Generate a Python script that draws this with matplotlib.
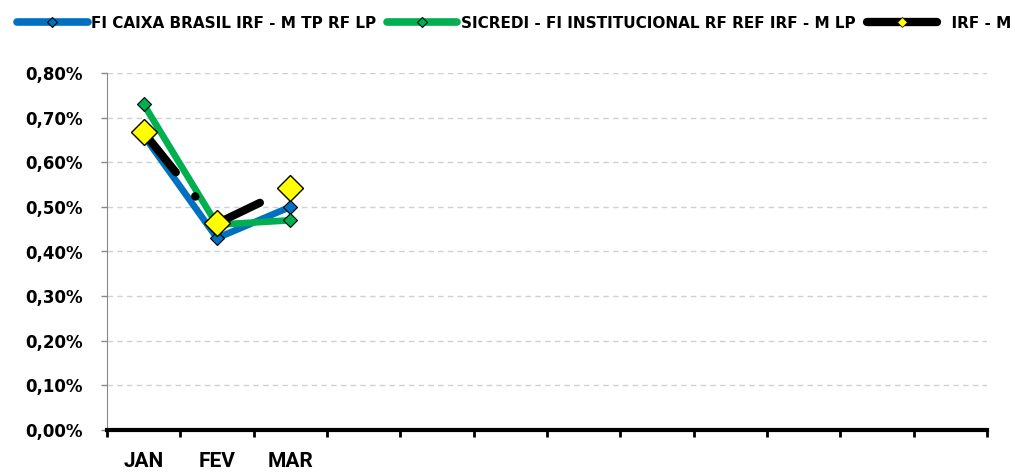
import matplotlib
matplotlib.use("Agg")
import matplotlib.pyplot as plt
from matplotlib.lines import Line2D
from matplotlib.ticker import FuncFormatter, FixedLocator

plt.rcParams['font.family'] = ['DejaVu Sans']
plt.rcParams['font.weight'] = 'bold'
plt.rcParams['lines.scale_dashes'] = False

# data (monthly return, %)
months = ['JAN', 'FEV', 'MAR', '', '', '', '', '', '', '', '', '']
caixa = [0.66, 0.43, 0.50]
sicredi = [0.73, 0.46, 0.47]
irfm = [0.667, 0.463, 0.542]
names = ['FI CAIXA BRASIL IRF - M TP RF LP',
         'SICREDI - FI INSTITUCIONAL RF REF IRF - M LP',
         '  IRF - M']

blue = '#0070C0'
green = '#00B050'

fig = plt.figure(figsize=(10.15, 4.73), dpi=100)
ax = fig.add_axes([107/1015, 43/473, 880/1015, 357/473])

x3 = range(len(caixa))
ax.plot(x3, caixa, color=blue, lw=4.8, marker='D', ms=7, mfc=blue,
        mec='black', mew=0.8, zorder=3)
ax.plot(x3, sicredi, color=green, lw=4.8, marker='D', ms=7, mfc=green,
        mec='black', mew=0.8, zorder=4)
ax.plot(x3, irfm, color='black', lw=5.8, dashes=(37, 22, 0.5, 22),
        dash_capstyle='round', zorder=5)
ax.plot(x3, irfm, ls='none', marker='D', ms=13, mfc='#FFFF00',
        mec='black', mew=1.0, zorder=6)

ax.set_xlim(-0.5, len(months) - 0.5)
ax.set_ylim(0, 0.8)
ax.yaxis.set_major_locator(FixedLocator([i / 10 for i in range(9)]))
ax.yaxis.set_major_formatter(FuncFormatter(lambda v, p: f'{v:.2f}%'.replace('.', ',')))
ax.grid(axis='y', color='#d0d0d0', ls=(0, (4, 3)), lw=1.0)
ax.set_axisbelow(True)

ax.xaxis.set_major_locator(FixedLocator([i - 0.5 for i in range(len(months) + 1)]))
ax.xaxis.set_major_formatter(FuncFormatter(lambda v, p: ''))
ax.xaxis.set_minor_locator(FixedLocator(range(len(months))))
ax.set_xticklabels(months, minor=True, fontfamily='Roboto', fontsize=15)
ax.tick_params(axis='x', which='major', direction='out', length=5, width=2, color='black')
ax.tick_params(axis='x', which='minor', length=0, pad=16)
ax.tick_params(axis='y', direction='out', length=4.5, width=1, color='#888888',
               labelsize=12, pad=13)

for s in ['top', 'right']:
    ax.spines[s].set_visible(False)
ax.spines['left'].set_color('#888888')
ax.spines['bottom'].set_color('black')
ax.spines['bottom'].set_linewidth(3)

handles = [
    Line2D([], [], color=blue, lw=5.5, solid_capstyle='round', marker='D', ms=5,
           mfc=blue, mec='black', mew=0.8),
    Line2D([], [], color=green, lw=5.5, solid_capstyle='round', marker='D', ms=5,
           mfc=green, mec='black', mew=0.8),
    Line2D([], [], color='black', lw=6, solid_capstyle='round', marker='D', ms=5,
           mfc='#FFFF00', mec='black', mew=0.5),
]
fig.legend(handles, names, loc='upper left', bbox_to_anchor=(0.005, 0.993), ncol=3,
           frameon=False, fontsize=11, handlelength=4.6, handletextpad=0.25,
           columnspacing=0.7, borderaxespad=0.4)

fig.savefig('out.png', dpi=100)
